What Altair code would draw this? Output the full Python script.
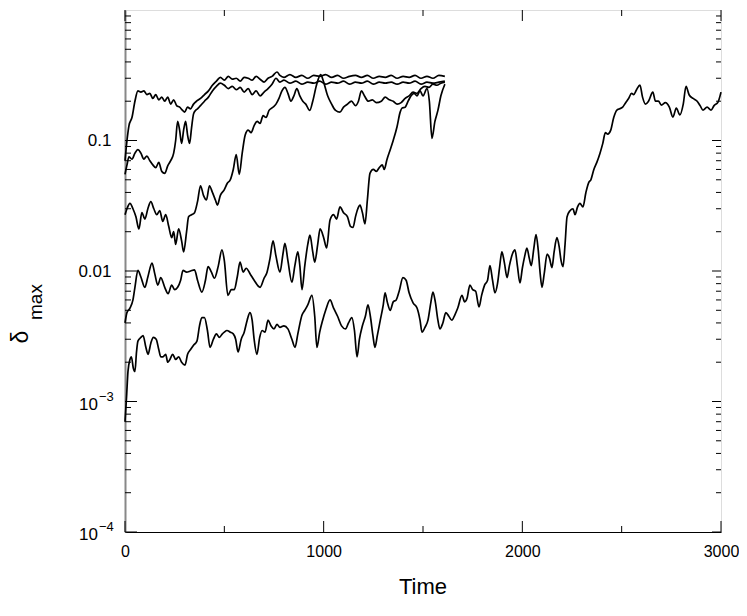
import altair as alt
import pandas as pd

# ---- data ----
T_A = [0,10,20,35,50,65,80,95,110,125,140,155,170,185,200,215,230,245,260,275,290,300,315,330,345,360,380,400,420,440,460,480,500,520,540,560,580,600,620,640,660,680,700,720,740,765,780,800,830,860,890,920,950,980,1010,1040,1070,1100,1130,1160,1190,1220,1250,1280,1310,1340,1370,1400,1430,1460,1490,1520,1550,1580,1610]
V_A = [0.07,0.1,0.13,0.15,0.2,0.24,0.235,0.24,0.225,0.23,0.21,0.225,0.205,0.215,0.2,0.215,0.19,0.205,0.185,0.18,0.17,0.165,0.18,0.175,0.19,0.2,0.21,0.225,0.24,0.265,0.285,0.305,0.29,0.31,0.295,0.3,0.285,0.305,0.3,0.29,0.31,0.295,0.28,0.3,0.31,0.335,0.315,0.305,0.32,0.305,0.315,0.3,0.315,0.31,0.32,0.305,0.315,0.3,0.31,0.315,0.305,0.315,0.3,0.31,0.305,0.315,0.3,0.31,0.305,0.315,0.3,0.31,0.3,0.315,0.31]

T_B = [0,10,20,35,50,65,80,95,110,125,140,155,170,185,200,215,230,245,255,265,275,285,295,305,315,325,335,345,355,365,380,400,420,440,460,480,500,520,540,560,580,600,620,640,660,680,700,720,740,760,780,800,830,860,890,920,950,980,1010,1040,1070,1100,1130,1160,1190,1220,1250,1280,1310,1340,1370,1400,1430,1460,1490,1520,1550,1580,1610]
V_B = [0.055,0.065,0.075,0.072,0.08,0.085,0.08,0.072,0.076,0.07,0.065,0.062,0.068,0.058,0.056,0.064,0.07,0.08,0.1,0.14,0.12,0.095,0.12,0.14,0.11,0.095,0.125,0.16,0.17,0.175,0.185,0.2,0.215,0.24,0.26,0.275,0.265,0.25,0.26,0.245,0.255,0.235,0.25,0.225,0.24,0.22,0.235,0.25,0.27,0.3,0.28,0.29,0.275,0.285,0.27,0.28,0.275,0.285,0.27,0.28,0.275,0.285,0.27,0.28,0.275,0.285,0.27,0.28,0.275,0.28,0.27,0.28,0.275,0.285,0.27,0.28,0.275,0.28,0.285]

T_C = [0,10,25,40,55,70,85,100,115,130,145,160,175,190,205,220,235,245,255,270,285,295,310,320,335,350,365,380,395,410,425,440,455,465,480,500,515,530,545,560,575,590,605,620,635,650,665,680,695,710,725,745,760,775,790,805,820,835,850,865,880,895,910,930,945,965,985,1000,1020,1040,1060,1082,1100,1120,1140,1160,1175,1190,1205,1225,1245,1265,1290,1310,1330,1350,1370,1390,1410,1430,1450,1470,1490,1510,1530,1550,1570,1590,1610]
V_C = [0.027,0.03,0.033,0.03,0.026,0.021,0.028,0.025,0.03,0.034,0.03,0.027,0.029,0.024,0.027,0.022,0.018,0.02,0.016,0.021,0.017,0.014,0.02,0.026,0.027,0.028,0.034,0.045,0.038,0.035,0.045,0.04,0.035,0.032,0.038,0.042,0.047,0.05,0.06,0.078,0.055,0.08,0.11,0.12,0.115,0.13,0.14,0.135,0.155,0.15,0.17,0.18,0.19,0.21,0.24,0.255,0.23,0.2,0.22,0.25,0.22,0.2,0.19,0.17,0.2,0.27,0.32,0.28,0.22,0.19,0.17,0.165,0.18,0.19,0.2,0.185,0.2,0.24,0.22,0.2,0.205,0.195,0.2,0.215,0.205,0.2,0.19,0.195,0.21,0.22,0.235,0.23,0.25,0.26,0.255,0.27,0.265,0.275,0.28]

T_D = [0,10,25,40,50,65,80,100,115,136,150,165,180,200,217,235,250,265,280,292,310,330,350,365,387,405,418,435,450,470,488,500,518,535,550,565,579,595,610,630,650,680,700,715,730,745,760,780,795,805,820,840,855,870,880,891,905,920,931,945,955,970,982,1000,1015,1032,1050,1065,1082,1100,1120,1135,1148,1160,1172,1183,1195,1208,1220,1233,1250,1265,1280,1295,1305,1318,1335,1350,1369,1385,1394,1410,1425,1440,1455,1470,1485,1500,1520,1532,1545,1560,1575,1590,1610]
V_D = [0.004,0.0048,0.0052,0.006,0.0075,0.0101,0.009,0.0075,0.009,0.0115,0.0095,0.0078,0.0089,0.0075,0.0067,0.0078,0.0072,0.0075,0.0085,0.0101,0.0098,0.01,0.0102,0.0085,0.0069,0.0085,0.0108,0.0098,0.0088,0.011,0.0145,0.012,0.0065,0.0072,0.0072,0.009,0.0117,0.0098,0.0105,0.0095,0.0085,0.0075,0.0088,0.0098,0.0125,0.017,0.013,0.0098,0.0135,0.0163,0.012,0.0082,0.011,0.014,0.011,0.0072,0.011,0.016,0.0188,0.014,0.0117,0.016,0.021,0.018,0.015,0.0246,0.027,0.025,0.031,0.028,0.026,0.022,0.0216,0.026,0.03,0.032,0.028,0.023,0.035,0.056,0.06,0.058,0.062,0.065,0.06,0.071,0.085,0.1,0.127,0.165,0.177,0.18,0.2,0.22,0.23,0.22,0.24,0.22,0.25,0.2,0.104,0.14,0.17,0.22,0.27]

T_E = [0,8,15,25,32,42,50,58,65,80,91,105,116,130,143,157,170,180,191,205,215,226,240,255,270,285,302,315,330,345,362,375,387,400,415,428,445,460,475,490,500,513,530,545,557,569,585,600,615,629,640,650,664,678,690,705,720,735,750,765,780,800,820,840,856,870,891,905,920,941,955,966,980,995,1010,1032,1050,1070,1090,1110,1125,1142,1155,1168,1180,1195,1210,1223,1235,1248,1258,1270,1285,1300,1309,1320,1335,1350,1365,1380,1399,1415,1430,1450,1470,1485,1495,1510,1525,1540,1550,1562,1575,1585,1600,1615,1630,1645,1660,1675,1696,1710,1722,1736,1750,1765,1782,1795,1810,1825,1837,1850,1862,1875,1885,1897,1910,1923,1935,1950,1963,1975,1988,2000,2012,2023,2035,2045,2058,2069,2080,2090,2099,2110,2125,2137,2149,2160,2174,2185,2195,2205,2215,2225,2240,2255,2265,2278,2290,2305,2320,2335,2345,2360,2375,2391,2405,2418,2430,2445,2460,2476,2490,2505,2520,2535,2550,2560,2575,2592,2605,2620,2635,2657,2670,2685,2700,2720,2740,2758,2775,2793,2810,2824,2840,2860,2880,2895,2909,2930,2950,2965,2985,3000]
V_E = [0.0007,0.0011,0.0017,0.0021,0.0022,0.0018,0.0017,0.0024,0.0029,0.0031,0.0032,0.0026,0.0023,0.0028,0.0031,0.003,0.0025,0.0022,0.0022,0.0023,0.002,0.0021,0.0023,0.0021,0.0022,0.002,0.0019,0.0023,0.0025,0.0027,0.0029,0.0038,0.0044,0.0044,0.0035,0.0026,0.003,0.0033,0.0031,0.0033,0.0034,0.0035,0.0034,0.0033,0.003,0.0024,0.003,0.0034,0.0042,0.0048,0.0042,0.003,0.0023,0.0031,0.0035,0.0034,0.0042,0.0038,0.0036,0.0039,0.0037,0.0038,0.0036,0.003,0.0026,0.0033,0.0046,0.005,0.0055,0.0065,0.0045,0.0026,0.0034,0.0042,0.005,0.006,0.0052,0.0045,0.0038,0.0036,0.004,0.0044,0.0035,0.0022,0.003,0.0038,0.0045,0.0055,0.0045,0.0032,0.0026,0.0032,0.0042,0.0055,0.0068,0.0058,0.005,0.0058,0.006,0.007,0.0089,0.0085,0.0068,0.0057,0.0052,0.0042,0.0034,0.0037,0.0042,0.0058,0.0069,0.0058,0.0042,0.0036,0.004,0.0048,0.0045,0.0042,0.0046,0.0052,0.0065,0.0058,0.0062,0.0078,0.0072,0.007,0.0053,0.0065,0.0078,0.0085,0.011,0.0085,0.0068,0.008,0.0105,0.014,0.0115,0.0089,0.011,0.0135,0.0145,0.011,0.0081,0.0105,0.013,0.015,0.0125,0.011,0.015,0.019,0.0145,0.0095,0.0075,0.0095,0.0135,0.0125,0.0106,0.014,0.018,0.0155,0.012,0.0108,0.016,0.026,0.029,0.03,0.027,0.031,0.033,0.031,0.04,0.048,0.05,0.06,0.068,0.08,0.095,0.115,0.112,0.12,0.15,0.171,0.175,0.18,0.195,0.21,0.23,0.225,0.245,0.266,0.215,0.19,0.2,0.235,0.2,0.2,0.187,0.195,0.18,0.151,0.177,0.157,0.19,0.26,0.223,0.21,0.2,0.185,0.171,0.18,0.171,0.185,0.197,0.235]

SERIES = {"A": (T_A, V_A), "B": (T_B, V_B), "C": (T_C, V_C), "D": (T_D, V_D), "E": (T_E, V_E)}

Y_MAJOR = [1e-4, 1e-3, 1e-2, 1e-1]
Y_MINOR = [m * d for d in [1e-4, 1e-3, 1e-2, 1e-1] for m in range(2, 10)]
X_MAJOR = [0, 1000, 2000, 3000]
X_MINOR = [500, 1500, 2500]
POW_VALUES = [1e-4, 1e-3]
POW_EXPONENTS = ["−4", "−3"]

W, H = 596, 522
FONT = "Liberation Sans"

rows = []
for name, (ts, vs) in SERIES.items():
    for t, v in zip(ts, vs):
        rows.append({"series": name, "t": t, "v": v})
df = pd.DataFrame(rows)

xscale = alt.Scale(domain=[0, 3000], nice=False)
yscale = alt.Scale(type="log", domain=[1e-4, 1], nice=False)

label_expr = ("datum.value < 0.005 ? '' : datum.value < 0.05 ? '0.01' : '0.1'")

lines = alt.Chart(df).mark_line(color="black", strokeWidth=1.7, interpolate="monotone").encode(
    x=alt.X("t:Q", scale=xscale,
            axis=alt.Axis(values=X_MAJOR, ticks=False, grid=False, title=None,
                          labelFontSize=16, labelFont=FONT, labelColor="black",
                          labelPadding=11, labelFlush=False, domainColor="black",
                          format="d")),
    y=alt.Y("v:Q", scale=yscale,
            axis=alt.Axis(values=Y_MAJOR, ticks=False, grid=False, title=None,
                          labelExpr=label_expr, labelFontSize=17, labelFont=FONT,
                          labelColor="black", labelPadding=14, labelFlush=False,
                          domainColor="#888888", domainWidth=2)),
    detail="series:N",
)

ymaj = pd.DataFrame({"v": Y_MAJOR})
ymin = pd.DataFrame({"v": Y_MINOR})
xmaj = pd.DataFrame({"t": X_MAJOR})
xmin = pd.DataFrame({"t": X_MINOR})
pw = pd.DataFrame({"v": POW_VALUES, "e": POW_EXPONENTS})

def yticks(data, left_len, right_len):
    l = alt.Chart(data).mark_rule(color="black", strokeWidth=1).encode(
        y=alt.Y("v:Q", scale=yscale), x=alt.value(0), x2=alt.value(left_len))
    r = alt.Chart(data).mark_rule(color="black", strokeWidth=1).encode(
        y=alt.Y("v:Q", scale=yscale), x=alt.value(W), x2=alt.value(W - right_len))
    return [l, r]

def xticks(data, length):
    b = alt.Chart(data).mark_rule(color="black", strokeWidth=1).encode(
        x=alt.X("t:Q", scale=xscale), y=alt.value(H), y2=alt.value(H - length))
    t = alt.Chart(data).mark_rule(color="black", strokeWidth=1).encode(
        x=alt.X("t:Q", scale=xscale), y=alt.value(0), y2=alt.value(length))
    return [b, t]

# power-of-ten labels: base "10" and raised exponent
base10 = alt.Chart(pw).mark_text(font=FONT, fontSize=17, color="black", align="right",
                                 baseline="middle", dy=3).encode(
    y=alt.Y("v:Q", scale=yscale), x=alt.value(-27), text=alt.value("10"))
expo = alt.Chart(pw).mark_text(font=FONT, fontSize=13, color="black", align="left",
                               baseline="middle", dy=-5, dx=1).encode(
    y=alt.Y("v:Q", scale=yscale), x=alt.value(-27), text="e:N")

one = pd.DataFrame({"k": [0]})
delta = alt.Chart(one).mark_text(font=FONT, fontSize=23, angle=270, color="black",
                                 align="center", baseline="middle").encode(
    x=alt.value(-104), y=alt.value(327), text=alt.value("δ"))
sub = alt.Chart(one).mark_text(font=FONT, fontSize=19, angle=270, color="black",
                               align="center", baseline="middle").encode(
    x=alt.value(-89), y=alt.value(292), text=alt.value("max"))
time_title = alt.Chart(one).mark_text(font=FONT, fontSize=22, color="black",
                                      align="center", baseline="middle").encode(
    x=alt.value(W / 2), y=alt.value(577), text=alt.value("Time"))

layers = ([lines] + yticks(ymaj, 12, 9) + yticks(ymin, 6, 5) + xticks(xmaj, 11)
          + xticks(xmin, 6) + [base10, expo, delta, sub, time_title])

chart = alt.layer(*layers).properties(
    width=W, height=H,
    autosize=alt.AutoSizeParams(type="none"),
    padding={"left": 117, "top": 2, "right": 18, "bottom": 72},
).configure_view(stroke="black", strokeWidth=1).configure(background="white")

chart.save("out.html", embed_options={"renderer": "svg", "actions": False})
